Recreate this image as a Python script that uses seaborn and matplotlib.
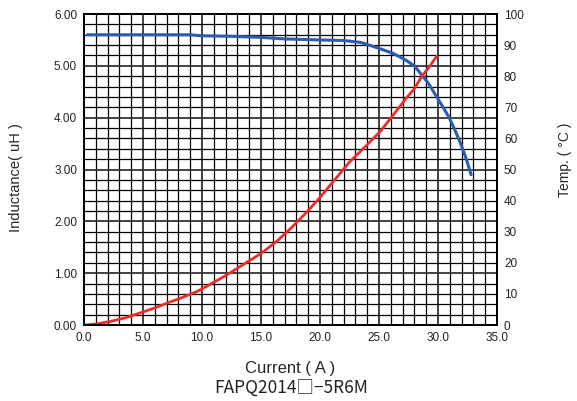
import numpy as np
import pandas as pd
import seaborn as sns
import matplotlib.pyplot as plt
from matplotlib.ticker import MultipleLocator

# Inductance curve (blue, left axis)
ind_current = [0.3, 3.0, 6.0, 9.0, 10.0, 12.5, 15.0, 17.0, 20.0, 22.0, 23.5, 25.1,
               26.2, 27.2, 28.0, 28.6, 29.2, 29.7, 30.3, 30.9, 31.4, 31.9, 32.4, 32.8]
inductance = [5.60, 5.60, 5.60, 5.60, 5.58, 5.57, 5.55, 5.52, 5.50, 5.49, 5.45, 5.33,
              5.24, 5.12, 5.00, 4.83, 4.66, 4.47, 4.25, 4.02, 3.78, 3.51, 3.20, 2.90]

# Temperature rise curve (red, right axis)
temp_current = [0.1, 1.0, 2.2, 3.5, 4.7, 6.0, 7.0, 8.3, 9.6, 10.8, 12.1, 13.9, 15.0,
                16.3, 17.5, 18.8, 20.0, 21.2, 22.5, 23.8, 25.1, 26.2, 27.3, 28.0,
                28.6, 29.3, 29.9]
temperature = [0.0, 0.3, 1.1, 2.3, 3.8, 5.5, 7.0, 8.8, 10.8, 13.3, 16.1, 20.4, 23.0,
               26.8, 31.0, 36.0, 41.0, 46.5, 52.4, 57.2, 62.2, 67.5, 72.9, 76.0,
               79.8, 83.2, 86.5]

x_ticks = [0, 5, 10, 15, 20, 25, 30, 35]
left_ticks = [0, 1, 2, 3, 4, 5, 6]
right_ticks = list(range(0, 101, 10))

ind_df = pd.DataFrame({"Current": ind_current, "Inductance": inductance})
temp_df = pd.DataFrame({"Current": temp_current, "Temp": temperature})

sns.set_style("white")
plt.rcParams['font.family'] = ['Liberation Sans', 'DejaVu Sans']

fig = plt.figure(figsize=(5.77, 4.01), dpi=100)
ax = fig.add_axes([0.1456, 0.1895, 0.7158, 0.7755])
ax2 = ax.twinx()

ax.set_xlim(0, 35)
ax.set_ylim(0, 6)
ax2.set_ylim(0, 100)

# Grid: 1 A vertical, 0.2 uH horizontal
ax.xaxis.set_major_locator(MultipleLocator(5))
ax.xaxis.set_minor_locator(MultipleLocator(1))
ax.yaxis.set_major_locator(MultipleLocator(1))
ax.yaxis.set_minor_locator(MultipleLocator(0.2))
ax.grid(True, which='major', color='#333333', lw=1.3)
ax.grid(True, which='minor', color='black', lw=0.9)
ax.set_axisbelow(True)

sns.lineplot(data=ind_df, x="Current", y="Inductance", ax=ax, color='#2a5db0', lw=2.2)
sns.lineplot(data=temp_df, x="Current", y="Temp", ax=ax2, color='#f02a2a', lw=2.0)

ax.set_xticks(x_ticks)
ax.set_xticklabels([f"{v:.1f}" for v in x_ticks], fontsize=8.5)
ax.set_yticks(left_ticks)
ax.set_yticklabels([f"{v:.2f}" for v in left_ticks], fontsize=8.5)
ax2.set_yticks(right_ticks)
ax2.set_yticklabels([str(v) for v in right_ticks], fontsize=8.5)

ax.tick_params(which='both', length=0, pad=5, colors='#222222')
ax2.tick_params(which='both', length=0, pad=5, colors='#222222')

ax.set_xlabel("Current ( A )", fontsize=12, labelpad=12)
ax.set_ylabel("Inductance( uH )", fontsize=10.5)
ax2.set_ylabel("Temp. ( \u00b0C )", fontsize=10)
ax.yaxis.set_label_coords(-0.148, 0.473)
ax2.yaxis.set_label_coords(1.148, 0.53)

for a in (ax, ax2):
    for s in a.spines.values():
        s.set_color('black')
        s.set_linewidth(1.4)

fig.text(0.505, 0.01, "FAPQ2014\u25a1\u22125R6M", ha='center', va='bottom',
         fontsize=12.5, family=['Noto Sans CJK JP', 'DejaVu Sans'], color='#222222')

fig.savefig("out.png", dpi=100)
